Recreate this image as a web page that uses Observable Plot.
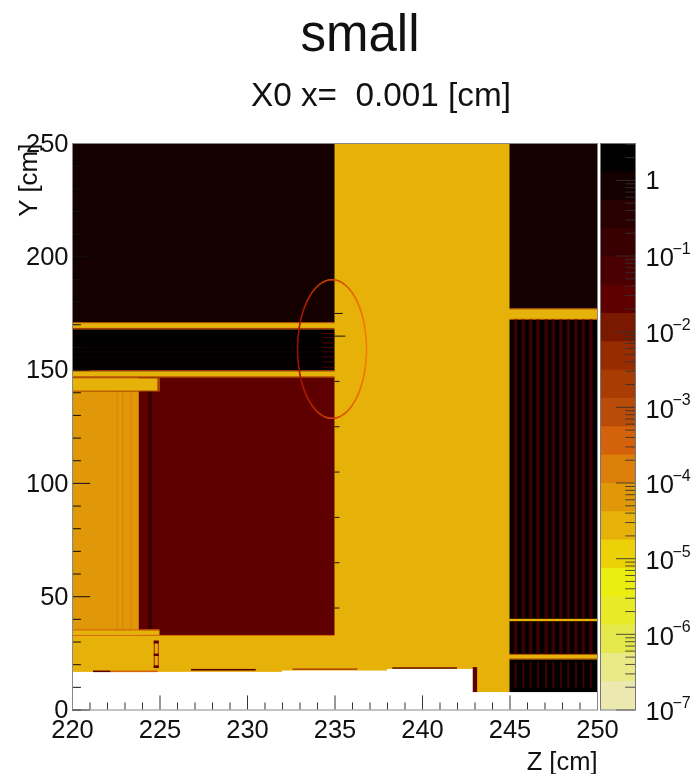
<!DOCTYPE html>
<html>
<head>
<meta charset="utf-8">
<script src="https://cdn.jsdelivr.net/npm/d3@7"></script>
<script src="https://cdn.jsdelivr.net/npm/@observablehq/plot@0.6"></script>
<style>
  html, body { margin: 0; padding: 0; background: #fff; overflow: hidden; }
  #page { position: relative; width: 691px; height: 774px; overflow: hidden; font-family: "Liberation Sans", sans-serif; color: #111; filter: blur(0.6px); }
  #page svg { position: absolute; left: 0; top: 120px; background: transparent; }
  .head { position: absolute; white-space: pre; text-align: center; line-height: 1; }
</style>
</head>
<body>
<div id="page">
  <div class="head" style="left:260px;width:200px;top:8px;font-size:51px">small</div>
  <div class="head" style="left:181px;width:400px;top:78px;font-size:33.3px">X0 x=  0.001 [cm]</div>
</div>
<script>
// Colour palette: 19 interior band edges, 20 colours (bottom to top)
const paletteMin = 1e-7, paletteMax = 3.07;
const bandEdges = [2.37e-7, 5.61e-7, 1.33e-6, 3.14e-6, 7.45e-6, 1.76e-5, 4.17e-5, 9.86e-5, 2.34e-4, 5.53e-4,
                   1.31e-3, 3.10e-3, 7.35e-3, 1.74e-2, 4.12e-2, 9.75e-2, 0.231, 0.547, 1.294];
const bandColors = ["#ebe9b0","#e9ea85","#e5e84a","#e8ea28","#ecee10","#ecd008","#e6b20a","#e09808","#dc7f0a","#d4620a",
                    "#b84c08","#a83c02","#962c00","#7a1800","#5f0000","#4a0000","#380000","#280000","#150000","#000000"];

// Material regions as [z1, z2, y1, y2], in cm; painted in this order
const baseYellow = [[220,250,18.5,250],[220,243.1,17.9,19],[220,238,17.2,19],[220,232,16.6,19],[243,250,7.7,19]];
const darkBlocks = [[220,235,170.9,250],[245,250,177,250]];
const blackBlocks = [[220,235,149.3,167.8],[245,250,7.7,22.1],[245,250,24.4,172]];
const redBlocks = [[223.8,235,32.8,146.6],[226.8,230.5,17.2,17.9],[238.3,242,18,18.6],[242.9,243.15,7.7,18.7],[221.2,222.2,16.5,17.2]];
const orangeBlocks = [[220,223.8,35,140.6]];
const yellowStrips = [[220,225,140.6,146.2],[220,225,32.9,35],[245,250,39,40]];
const softOrange = [[222.56,222.61,35,140.6],[222.87,222.93,35,140.6],[223.35,223.41,35,140.6]];
const orangeLines = [[220,225,34.9,35.4],[220,235,32.5,32.9],[222.2,224.9,16.5,17.2]];
const brownEdges = [[220,235,167.8,168.4],[220,235,146.5,147],[220,235,149.3,149.8],[220,235,170.5,170.9],
                    [220,225,146.2,146.6],[220,225,140.3,140.7],[224.88,225,140.4,146.5],[232.6,236.3,17.5,18.1],
                    [245,250,172,172.4],[245,250,176.6,177],[245,250,22.1,22.5],[245,250,24.2,24.6],[224.67,224.96,18.3,30.4]];
const deviceInner = [[224.74,224.9,18.3,30.4]];
const deviceCaps = [[224.67,224.96,29.1,30.4],[224.67,224.96,23.6,24.7],[224.67,224.96,18.3,19.5]];
const darkBand = [[224.35,224.58,35,146.6]];
const faintLines = [[220,234.4,157.6,158],[220,234.4,153.2,153.6],[220,234.4,159.5,159.9],[220,234.4,155.4,155.8],[220,234.4,151,151.3],[220,234.4,163,163.3]];
const edgeLines = [[234.3,235,165.7,166.1],[234.3,235,163.9,164.3],[234.3,235,161.5,161.9],[234.3,235,159.5,159.9],
                   [234.3,235,157.6,158],[234.3,235,155.4,155.8],[234.3,235,153.2,153.6],[234.3,235,150.9,151.3]];

// Vertical stripes in the right-hand block, z in cm
const stripeZ = [245.35,245.79,246.21,246.64,247.09,247.5,247.94,248.36,248.8,249.22,249.64];

// Representative X0 per material
const table = [];
const add = (list, value) => list.forEach(([z1,z2,y1,y2]) => table.push({z1,z2,y1,y2,value}));
add(baseYellow, 3e-5);
add(darkBlocks, 1);
add(blackBlocks, 2);
add(redBlocks, 0.03);
add(darkBand, 0.15);
add(orangeBlocks, 7e-5);
add(softOrange, 1.5e-4);
add(yellowStrips, 3e-5);
add(orangeLines, 4e-4);
add(brownEdges, 2e-3);
add(deviceInner, 3e-5);
add(deviceCaps, 0.03);
add(faintLines, 1);
add(edgeLines, 0.03);
add(stripeZ.map(z => [z-0.12, z+0.12, 24.6, 172]), 0.4);
add(stripeZ.map(z => [z-0.04, z+0.04, 24.6, 172]), 0.07);
add(stripeZ.map(z => [z-0.05, z+0.05, 9.7, 21]), 0.07);
add([[245,250,39,40]], 3e-5);

// Highlight ellipse
const ellipseZ = 234.83, ellipseY = 159.3, ellipseRZ = 1.97, ellipseRY = 30.6;
const ellipseColor = d3.interpolateRgb("#a01000", "#f57a00");
const ellipse = d3.range(0, 362, 2).map(a => {
  const c = Math.cos(a * Math.PI / 180), s = Math.sin(a * Math.PI / 180);
  return {z: ellipseZ + ellipseRZ * c, y: ellipseY + ellipseRY * s, stroke: ellipseColor((c + 1) / 2)};
});

// Axis ticks
const zMajor = [220,225,230,235,240,245,250];
const zMinor = [221,222,223,224,226,227,228,229,231,232,233,234,236,237,238,239,241,242,243,244,246,247,248,249];
const yMajor = [0,50,100,150,200,250];
const yMinor = [10,20,30,40,60,70,80,90,110,120,130,140,160,170,180,190,210,220,230,240];
const centreTicks = [[175,0.47],[165,0.62],[145,0.28],[125,0.28],[105,0.28],[85,0.28],[65,0.28],[45,0.28]];

// Palette ticks and labels
const decades = [1e-7,1e-6,1e-5,1e-4,1e-3,1e-2,1e-1,1];
const decadeExponents = ["\u22127","\u22126","\u22125","\u22124","\u22123","\u22122","\u22121",""];
const minorFactors = [2,3,4,5,6,7,8,9];

const colorScale = {type: "threshold", domain: bandEdges, range: bandColors};
const font = {fontFamily: "'Liberation Sans', sans-serif", background: "transparent", color: "#111", overflow: "visible"};
const tickFont = 25.5;

const main = Plot.plot({
  width: 691, height: 654,
  marginLeft: 72, marginRight: 94, marginTop: 23, marginBottom: 64.5,
  style: font,
  x: {domain: [220, 250]},
  y: {domain: [0, 250]},
  color: colorScale,
  marks: [
    Plot.rect(table, {x1: "z1", x2: "z2", y1: "y1", y2: "y2", fill: "value"}),
    Plot.line(ellipse, {x: "z", y: "y", stroke: "stroke", z: null, strokeWidth: 1.5}),
    Plot.ruleY(yMinor.concat([0]), {x1: 220, x2: 220.51, stroke: "#111", strokeWidth: 1}),
    Plot.ruleY(yMajor, {x1: 220, x2: 221.03, stroke: "#111", strokeWidth: 1}),
    Plot.ruleY(centreTicks, {y: d => d[0], x1: 235, x2: d => 235 + d[1], stroke: "#111", strokeWidth: 1}),
    Plot.ruleX(zMinor, {y1: 0, y2: 3.1, stroke: "#333", strokeWidth: 1}),
    Plot.ruleX(zMajor, {y1: 0, y2: 6.2, stroke: "#333", strokeWidth: 1}),
    Plot.frame({stroke: "#888", strokeWidth: 1}),
    Plot.axisX({ticks: zMajor, tickSize: 0, tickPadding: 10, label: null, fontSize: tickFont, tickFormat: d => d}),
    Plot.axisY({ticks: yMajor, tickSize: 0, tickPadding: 4, label: null, fontSize: tickFont, tickFormat: d => d}),
    Plot.text(["Z [cm]"], {frameAnchor: "bottom-right", textAnchor: "end", lineAnchor: "bottom", dy: 60, fontSize: tickFont}),
    Plot.text(["Y [cm]"], {frameAnchor: "top-left", textAnchor: "end", lineAnchor: "middle", rotate: -90, dx: -44, fontSize: tickFont + 0.5})
  ]
});

// Each band runs up to the palette top and is overpainted by the next, so no seams show
const lows = [paletteMin, ...bandEdges];
const highs = [...bandEdges, paletteMax];
const bands = lows.map((low, i) => ({low, mid: Math.sqrt(low * highs[i])}));
const minorValues = decades.flatMap(d => minorFactors.map(f => d * f)).filter(v => v <= paletteMax);

const bar = Plot.plot({
  width: 691, height: 654,
  marginLeft: 600, marginRight: 56, marginTop: 23, marginBottom: 64.5,
  style: font,
  x: {domain: [0, 1], axis: null},
  y: {type: "log", domain: [paletteMin, paletteMax], axis: null},
  color: colorScale,
  marks: [
    Plot.rect(bands, {x1: 0, x2: 1, y1: "low", y2: paletteMax, fill: "mid"}),
    Plot.ruleY(minorValues, {x1: 0.72, x2: 1, stroke: "#333", strokeOpacity: 0.85, strokeWidth: 1}),
    Plot.ruleY(decades, {x1: 0.46, x2: 1, stroke: "#333", strokeOpacity: 0.85, strokeWidth: 1}),
    Plot.frame({stroke: "#777", strokeWidth: 1}),
    Plot.text(decades.slice(0, 7), {y: d => d, text: () => "10", frameAnchor: "right", textAnchor: "start", dx: 10, dy: 2, fontSize: tickFont}),
    Plot.text(decades.slice(0, 7), {y: d => d, text: (d, i) => decadeExponents[i], frameAnchor: "right", textAnchor: "start", dx: 37, dy: -7, fontSize: 16}),
    Plot.text([1], {y: d => d, text: () => "1", frameAnchor: "right", textAnchor: "start", dx: 10, dy: 0, fontSize: tickFont})
  ]
});

const page = document.getElementById("page");
page.append(main, bar);
</script>
</body>
</html>
